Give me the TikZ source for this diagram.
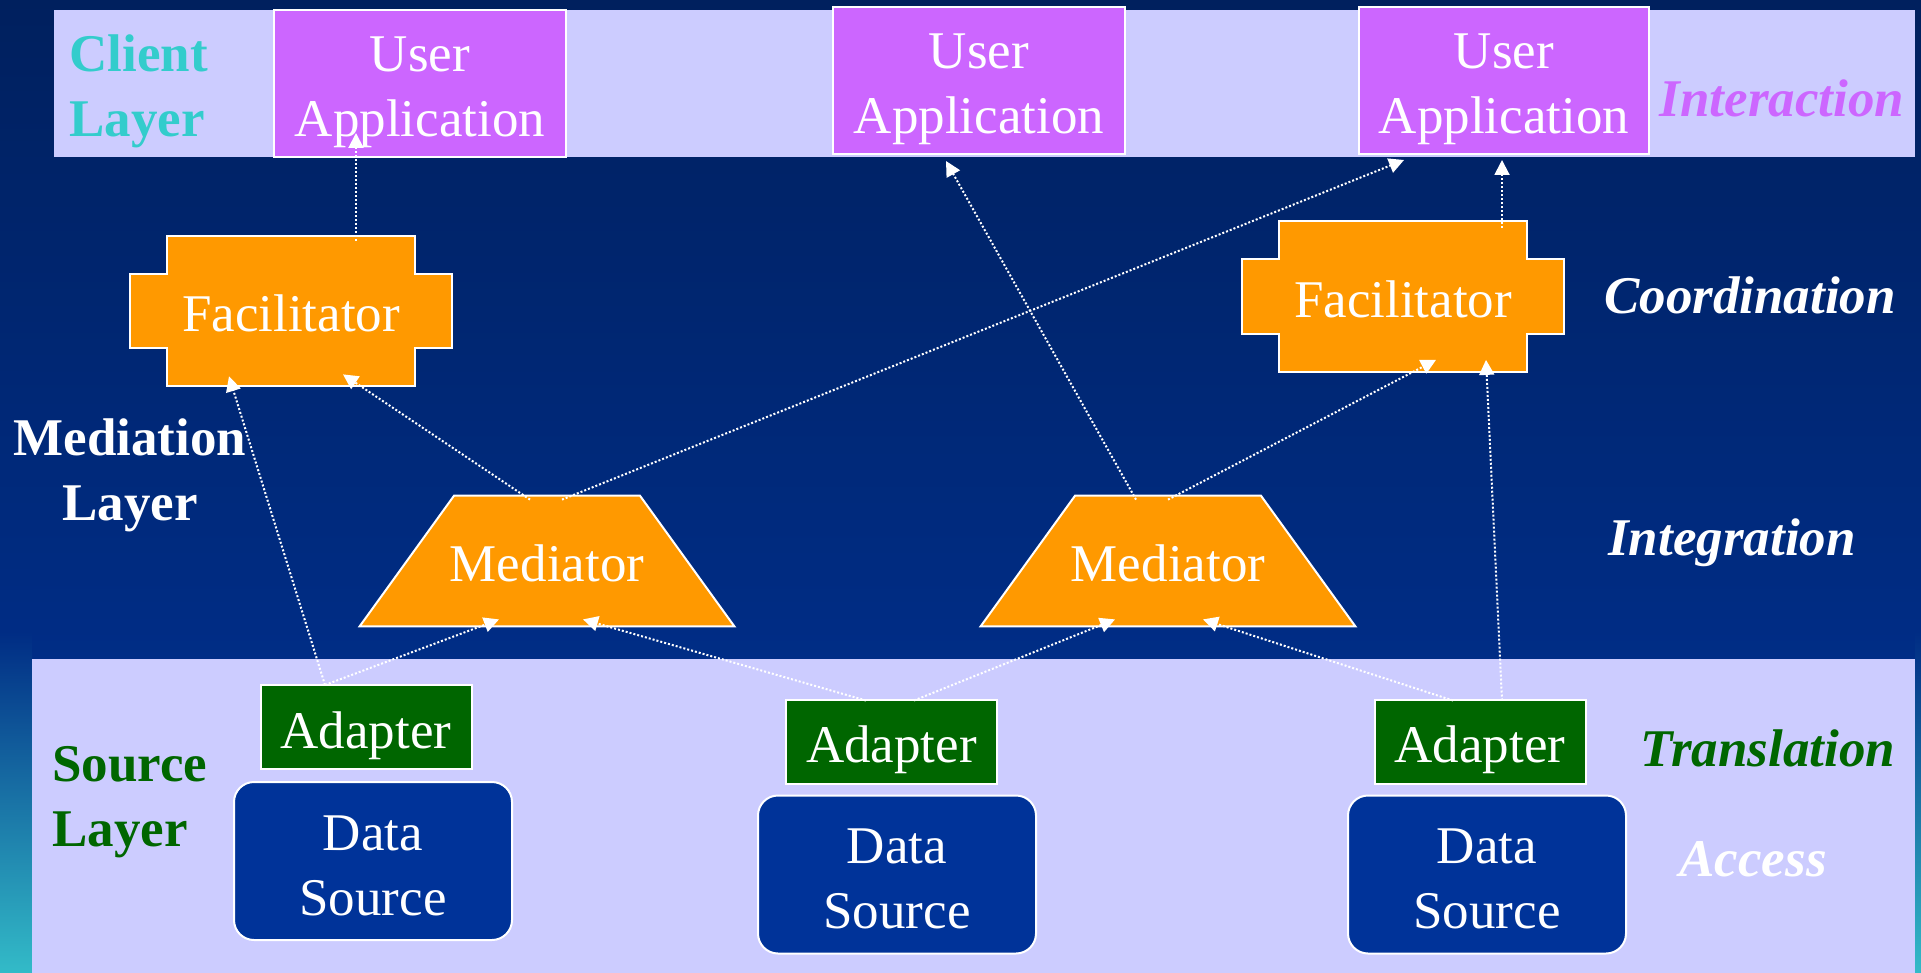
\documentclass[tikz,border=0pt]{standalone}
\usepackage{fontspec}
\setmainfont{Liberation Serif}
\usetikzlibrary{calc,arrows.meta}

\definecolor{navytop}{HTML}{00205E}
\definecolor{navybot}{HTML}{003399}
\colorlet{midnavy}{navybot!65!navytop}
\definecolor{tealedge}{HTML}{33BBC8}
\definecolor{bandcol}{HTML}{CCCCFF}
\definecolor{appcol}{HTML}{CC66FF}
\definecolor{orangecol}{HTML}{FF9900}
\definecolor{adaptcol}{HTML}{006600}
\definecolor{dscol}{HTML}{003399}
\definecolor{clientcol}{HTML}{33CCCC}

% backdrop: navy getting lighter downwards; side strips turn teal near the bottom
% (a filled path covers the 25bp--75bp part of a shading)
\pgfdeclareverticalshading{backdrop}{100bp}{color(0bp)=(navybot); color(25bp)=(navybot); color(75bp)=(navytop); color(100bp)=(navytop)}
\pgfdeclareverticalshading{sidestrip}{100bp}{color(0bp)=(tealedge); color(25bp)=(tealedge); color(42.5bp)=(midnavy); color(75bp)=(navytop); color(100bp)=(navytop)}

\pgfdeclarelayer{bg}
\pgfdeclarelayer{shapes}
\pgfsetlayers{bg,shapes,main}

\tikzset{
  txt/.style={text=white, font=\fontsize{26.5}{32.5}\selectfont, align=center, inner sep=0pt},
  appbox/.style={rectangle, fill=appcol, draw=white, line width=1pt,
                 minimum width=146pt, minimum height=73.5pt},
  adaptbox/.style={rectangle, fill=adaptcol, draw=white, line width=1pt,
                   minimum width=105.5pt, minimum height=42pt},
  dsbox/.style={rectangle, rounded corners=10pt, fill=dscol, draw=white, line width=1pt,
                minimum width=139pt, minimum height=79pt},
  facnode/.style={rectangle, minimum width=161pt, minimum height=75pt},
  mednode/.style={rectangle, minimum width=187pt, minimum height=65pt},
  orangeshape/.style={fill=orangecol, draw=white, line width=1pt, line join=miter},
  layerlbl/.style={inner sep=0pt, font=\fontsize{26.5}{32.5}\selectfont\bfseries},
  rolelbl/.style={inner sep=0pt, font=\fontsize{26.5}{32.5}\selectfont\bfseries\itshape},
  conn/.style={white, line width=1pt, dash pattern=on 1pt off 1pt,
               -{Triangle[length=7.5pt,width=7.5pt]}}
}

\begin{document}
\begin{tikzpicture}[x=0.5pt, y=-0.5pt]
\useasboundingbox (0,0) rectangle (1921,973);

% backdrop and layer bands
\begin{pgfonlayer}{bg}
  \fill[shading=backdrop] (0,0) rectangle (1921,973);
  \fill[shading=sidestrip] (0,0) rectangle (32,973);
  \fill[shading=sidestrip] (1915,0) rectangle (1921,973);
  \fill[bandcol] (54,10) rectangle (1915,157);
  \fill[bandcol] (32,659) rectangle (1915,973);
\end{pgfonlayer}

% client layer boxes
\node[appbox] (ua1) at (420,83.5) {};
\node[appbox] (ua2) at (979,80.5) {};
\node[appbox, minimum width=145pt] (ua3) at (1504,80.5) {};

% mediation layer frames
\node[facnode] (fac1) at (291,311) {};
\node[facnode] (fac2) at (1403,296.5) {};
\node[mednode] (med1) at (547,561) {};
\node[mednode] (med2) at (1168,561) {};

% source layer boxes
\node[adaptbox] (ad1) at (366,727) {};
\node[adaptbox] (ad2) at (891.5,741.5) {};
\node[adaptbox] (ad3) at (1480,741.5) {};
\node[dsbox] (ds1) at (373,861) {};
\node[dsbox] (ds2) at (897,874.5) {};
\node[dsbox] (ds3) at (1487,874.5) {};

% facilitator and mediator outlines
\begin{pgfonlayer}{shapes}
  \foreach \f in {fac1,fac2}{
    \draw[orangeshape]
      ($(\f.north west)+(37,0)$) -- ($(\f.north east)+(-37,0)$)
      -- ($(\f.north east)+(-37,38)$) -- ($(\f.north east)+(0,38)$)
      -- ($(\f.south east)+(0,-38)$) -- ($(\f.south east)+(-37,-38)$)
      -- ($(\f.south east)+(-37,0)$) -- ($(\f.south west)+(37,0)$)
      -- ($(\f.south west)+(37,-38)$) -- ($(\f.south west)+(0,-38)$)
      -- ($(\f.north west)+(0,38)$) -- ($(\f.north west)+(37,38)$) -- cycle;
  }
  \foreach \m in {med1,med2}{
    \draw[orangeshape]
      (\m.south west) -- (\m.south east)
      -- ($(\m.north east)+(-94.5,0)$) -- ($(\m.north west)+(94.5,0)$) -- cycle;
  }
\end{pgfonlayer}

% box captions (set a little below centre)
\foreach \b in {ua1,ua2,ua3}{
  \node[txt] (\b txt) at ($(\b.center)+(0,9)$) {User\\Application};
}
\foreach \b in {fac1,fac2}{
  \node[txt] (\b txt) at ($(\b.center)+(0,2.5)$) {Facilitator};
}
\foreach \b in {med1,med2}{
  \node[txt] (\b txt) at ($(\b.center)+(0,2.5)$) {Mediator};
}
\foreach \b in {ad1,ad2,ad3}{
  \node[txt] (\b txt) at ($(\b.center)+(0,8.5)$) {Adapter};
}
\foreach \b in {ds1,ds2,ds3}{
  \node[txt] (\b txt) at ($(\b.center)+(0,4.5)$) {Data\\Source};
}

% layer names
\node[layerlbl, text=clientcol, anchor=west, align=left] (clientlbl) at (69,91.5) {Client\\Layer};
\node[layerlbl, text=white, align=center] (medlbl) at (130,475) {Mediation\\Layer};
\node[layerlbl, text=adaptcol, anchor=west, align=left] (srclbl) at (52,802) {Source\\Layer};

% roles
\node[rolelbl, text=appcol] (interaction) at (1782,98) {Interaction};
\node[rolelbl, text=white] (coordination) at (1750,295) {Coordination};
\node[rolelbl, text=white] (integration) at (1732,543) {Integration};
\node[rolelbl, text=adaptcol] (translation) at (1768,748) {Translation};
\node[rolelbl, text=white] (access) at (1753,859) {Access};

% information flow
\draw[conn] ($(fac1.north)+(65,5)$)  -- ($(ua1.south)+(-64,-25)$);
\draw[conn] ($(med1.north)+(-17,4)$) -- ($(fac1.south)+(52,-12)$);
\draw[conn] ($(ad1.north)+(-41,1)$)  -- ($(fac1.south)+(-62,-10)$);
\draw[conn] ($(ad1.north)+(-41,1)$)  -- ($(med1.south)+(-48,-7)$);
\draw[conn] ($(ad2.north)+(-25.5,2)$) -- ($(med1.south)+(36,-7)$);
\draw[conn] ($(med1.north)+(15,4)$)  -- ($(ua3.south)+(-100,5)$);
\draw[conn] ($(med2.north)+(-32,4)$) -- ($(ua2.south)+(-33,6)$);
\draw[conn] ($(med2.north)+(0,4)$)   -- ($(fac2.south)+(33,-12)$);
\draw[conn] ($(ad2.north)+(22.5,2)$) -- ($(med2.south)+(-53,-7)$);
\draw[conn] ($(ad3.north)+(-27,2)$)  -- ($(med2.south)+(35,-7)$);
\draw[conn] ($(ad3.north)+(22,2)$)   -- ($(fac2.south)+(83,-12)$);
\draw[conn] ($(fac2.north)+(99,7)$)  -- ($(ua3.south)+(-2,5)$);
\end{tikzpicture}
\end{document}
